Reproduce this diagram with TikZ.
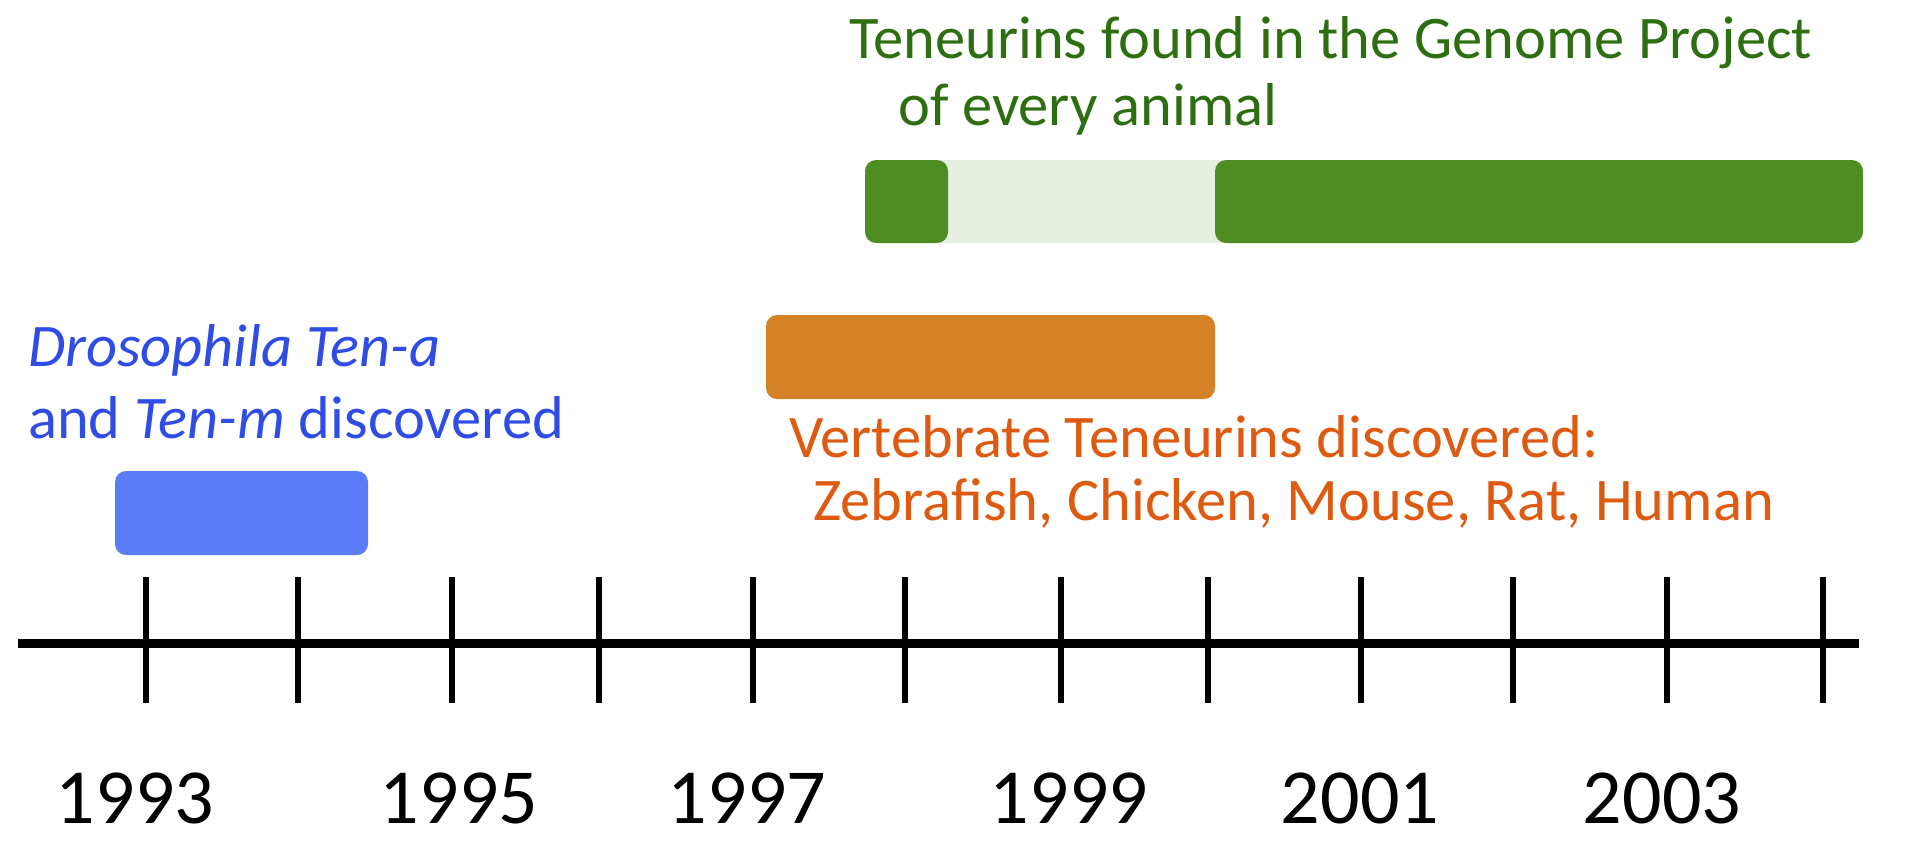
\documentclass[tikz,border=0pt]{standalone}
\usepackage{fontspec}
\setmainfont{Carlito}
\definecolor{bluebox}{HTML}{5A7CF6}
\definecolor{bluetext}{HTML}{2F4DE4}
\definecolor{orangebar}{HTML}{D58125}
\definecolor{orangetext}{HTML}{DD5A10}
\definecolor{greenbar}{HTML}{4E8D22}
\definecolor{greenlight}{HTML}{E7EFE2}
\definecolor{greentext}{HTML}{2D6E10}
\begin{document}
\begin{tikzpicture}[x=1pt,y=-1pt,
  bar/.style={rounded corners=11pt, inner sep=0pt, outer sep=0pt, draw=none},
  flatbar/.style={inner sep=0pt, outer sep=0pt, draw=none},
  lbl/.style={anchor=base west, inner sep=0pt, font=\fontsize{60.5}{72}\selectfont},
  yearlbl/.style={anchor=base, inner sep=0pt, font=\fontsize{78}{90}\selectfont, text=black},
  axisline/.style={line width=9pt, black},
  tickline/.style={line width=6.5pt, black}]
\useasboundingbox (0,0) rectangle (1905,855);
% bars
\node[bar, fill=bluebox, minimum width=253pt, minimum height=84pt] (bluebar) at (241.5,513) {};
\node[bar, fill=orangebar, minimum width=449pt, minimum height=84pt] (orangebar) at (990.5,357) {};
\node[flatbar, fill=greenlight, minimum width=282pt, minimum height=83pt] (greenmid) at (1081,201.5) {};
\node[bar, fill=greenbar, minimum width=83pt, minimum height=83pt] (greenA) at (906.5,201.5) {};
\node[bar, fill=greenbar, minimum width=648pt, minimum height=83pt] (greenB) at (1539,201.5) {};
% labels
\node[lbl, text=bluetext] (blue1) at (28,366) {\textit{Drosophila Ten-a}};
\node[lbl, text=bluetext] (blue2) at (28,438) {and \textit{Ten-m} discovered};
\node[lbl, text=orangetext] (orange1) at (789,457) {Vertebrate Teneurins discovered:};
\node[lbl, text=orangetext] (orange2) at (813,520) {Zebrafish, Chicken, Mouse, Rat, Human};
\node[lbl, text=greentext] (green1) at (849,58) {Teneurins found in the Genome Project};
\node[lbl, text=greentext] (green2) at (898,125) {of every animal};
% axis
\coordinate (axL) at (18,643);
\coordinate (axR) at (1859,643);
\draw[axisline] (axL) -- (axR);
\foreach \t in {146,298,452,599,753,905,1061,1208,1361,1513,1667,1823}
  \draw[tickline] (\t,577) -- (\t,703);
% years
\node[yearlbl] (y1993) at (135,823) {1993};
\node[yearlbl] (y1995) at (459,823) {1995};
\node[yearlbl] (y1997) at (747,823) {1997};
\node[yearlbl] (y1999) at (1069,823) {1999};
\node[yearlbl] (y2001) at (1360,823) {2001};
\node[yearlbl] (y2003) at (1662,823) {2003};
\end{tikzpicture}
\end{document}
